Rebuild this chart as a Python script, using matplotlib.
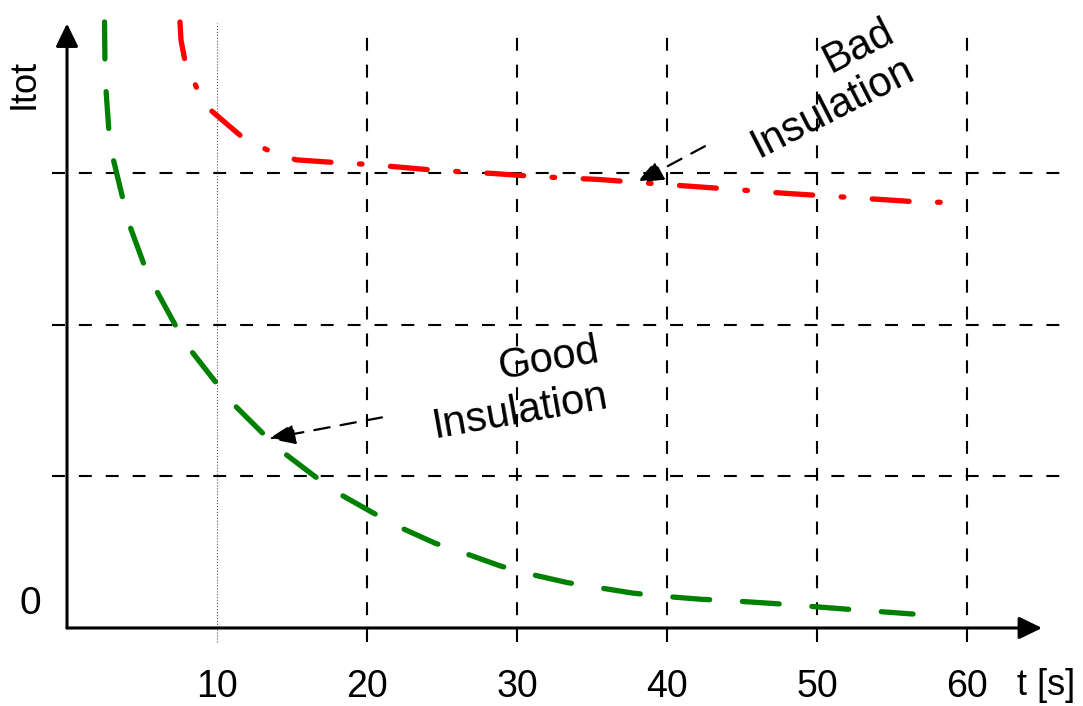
import matplotlib.pyplot as plt

plt.rcParams['font.family'] = ['Liberation Sans', 'DejaVu Sans']

# values (t in s, Itot in grid units)
good_t = [2.5, 2.53, 2.6, 2.8, 3.07, 3.73, 4.2, 5.13, 6.0, 7.27, 8.27, 9.93, 11.07, 13.0, 14.4,
          16.53, 18.07, 20.4, 22.07, 24.53, 26.33, 28.87, 30.67, 33.33, 35.2, 37.73, 39.67,
          42.2, 44.53, 47.33, 51.87, 56.4]
good_i = [4.0, 3.73, 3.55, 3.27, 3.10, 2.83, 2.65, 2.40, 2.22, 1.99, 1.83, 1.62, 1.48, 1.29, 1.16,
          1.0, 0.89, 0.76, 0.67, 0.56, 0.50, 0.41, 0.36, 0.30, 0.27, 0.23, 0.21,
          0.19, 0.178, 0.16, 0.125, 0.092]

bad_t = [7.53, 7.6, 7.87, 8.67, 9.67, 11.8, 13.47, 15.27, 18.2, 20.07, 24.67, 28.4, 31.2,
         35.53, 39.53, 43.73, 47.73, 52.47, 57.07, 58.93]
bad_i = [4.0, 3.88, 3.74, 3.56, 3.41, 3.23, 3.15, 3.09, 3.07, 3.06, 3.02, 3.0, 2.98,
         2.96, 2.93, 2.90, 2.87, 2.84, 2.81, 2.81]

x_ticks = [10, 20, 30, 40, 50, 60]
y_levels = [1, 2, 3]

fig = plt.figure(figsize=(10.83, 7.06), dpi=100)
ax = fig.add_axes([0, 0, 1, 1])
ax.set_xlim(-4.467, 67.73)
ax.set_ylim(-0.515, 4.145)
ax.axis('off')

# grid
for y in y_levels:
    ax.plot([-1, 66.9], [y, y], color='k', lw=1.5, dashes=(6.2, 6.7), dash_capstyle='butt')
for x in x_ticks:
    if x == 10:
        ax.plot([x, x], [-0.092, 3.99], color='#555555', lw=0.8, linestyle=':')
    else:
        ax.plot([x, x], [-0.092, 3.95], color='k', lw=1.5, dashes=(6.2, 6.7), dash_capstyle='butt')

# axes with arrow heads
axis_arrow = dict(arrowstyle='-|>,head_length=14,head_width=6.8', color='k', lw=2.2,
                  mutation_scale=1, shrinkA=0, shrinkB=0)
ax.annotate('', xy=(65.0, 0), xytext=(0, 0), arrowprops=axis_arrow)
ax.annotate('', xy=(0, 3.99), xytext=(0, 0), arrowprops=axis_arrow)

# curves
ax.plot(good_t, good_i, color='green', lw=3.8, dashes=(7.0, 6.2), dash_capstyle='round')
ax.plot(bad_t, bad_i, color='red', lw=3.8, dashes=(7.0, 5.4, 0.5, 5.4), dash_capstyle='round')

# labels
for x in x_ticks:
    ax.text(x, -0.455, str(x), fontsize=27, ha='center', va='baseline')
ax.text(65.27, -0.44, 't [s]', fontsize=26, ha='center', va='baseline')
ax.text(-2.47, 0.092, '0', fontsize=28, ha='center', va='baseline')
ax.text(-2.83, 3.59, 'Itot', fontsize=26, rotation=90, ha='center', va='center')

# annotations
note_arrow = dict(arrowstyle='-|>,head_length=16,head_width=6.5', color='k', lw=1.6,
                  linestyle=(0, (7, 5)), mutation_scale=1, shrinkA=0, shrinkB=0)
ax.annotate('', xy=(38.0, 2.94), xytext=(42.53, 3.18), arrowprops=note_arrow)
ax.annotate('', xy=(13.47, 1.25), xytext=(21.0, 1.39), arrowprops=note_arrow)

ax.text(50.33, 3.56, 'Bad\nInsulation', fontsize=30, rotation=27, rotation_mode='anchor',
        ha='center', va='center', multialignment='right', linespacing=1.1)
ax.text(29.93, 1.58, 'Good\nInsulation', fontsize=30, rotation=10, rotation_mode='anchor',
        ha='center', va='center', multialignment='right', linespacing=1.2)

fig.savefig('out.png', dpi=100)
